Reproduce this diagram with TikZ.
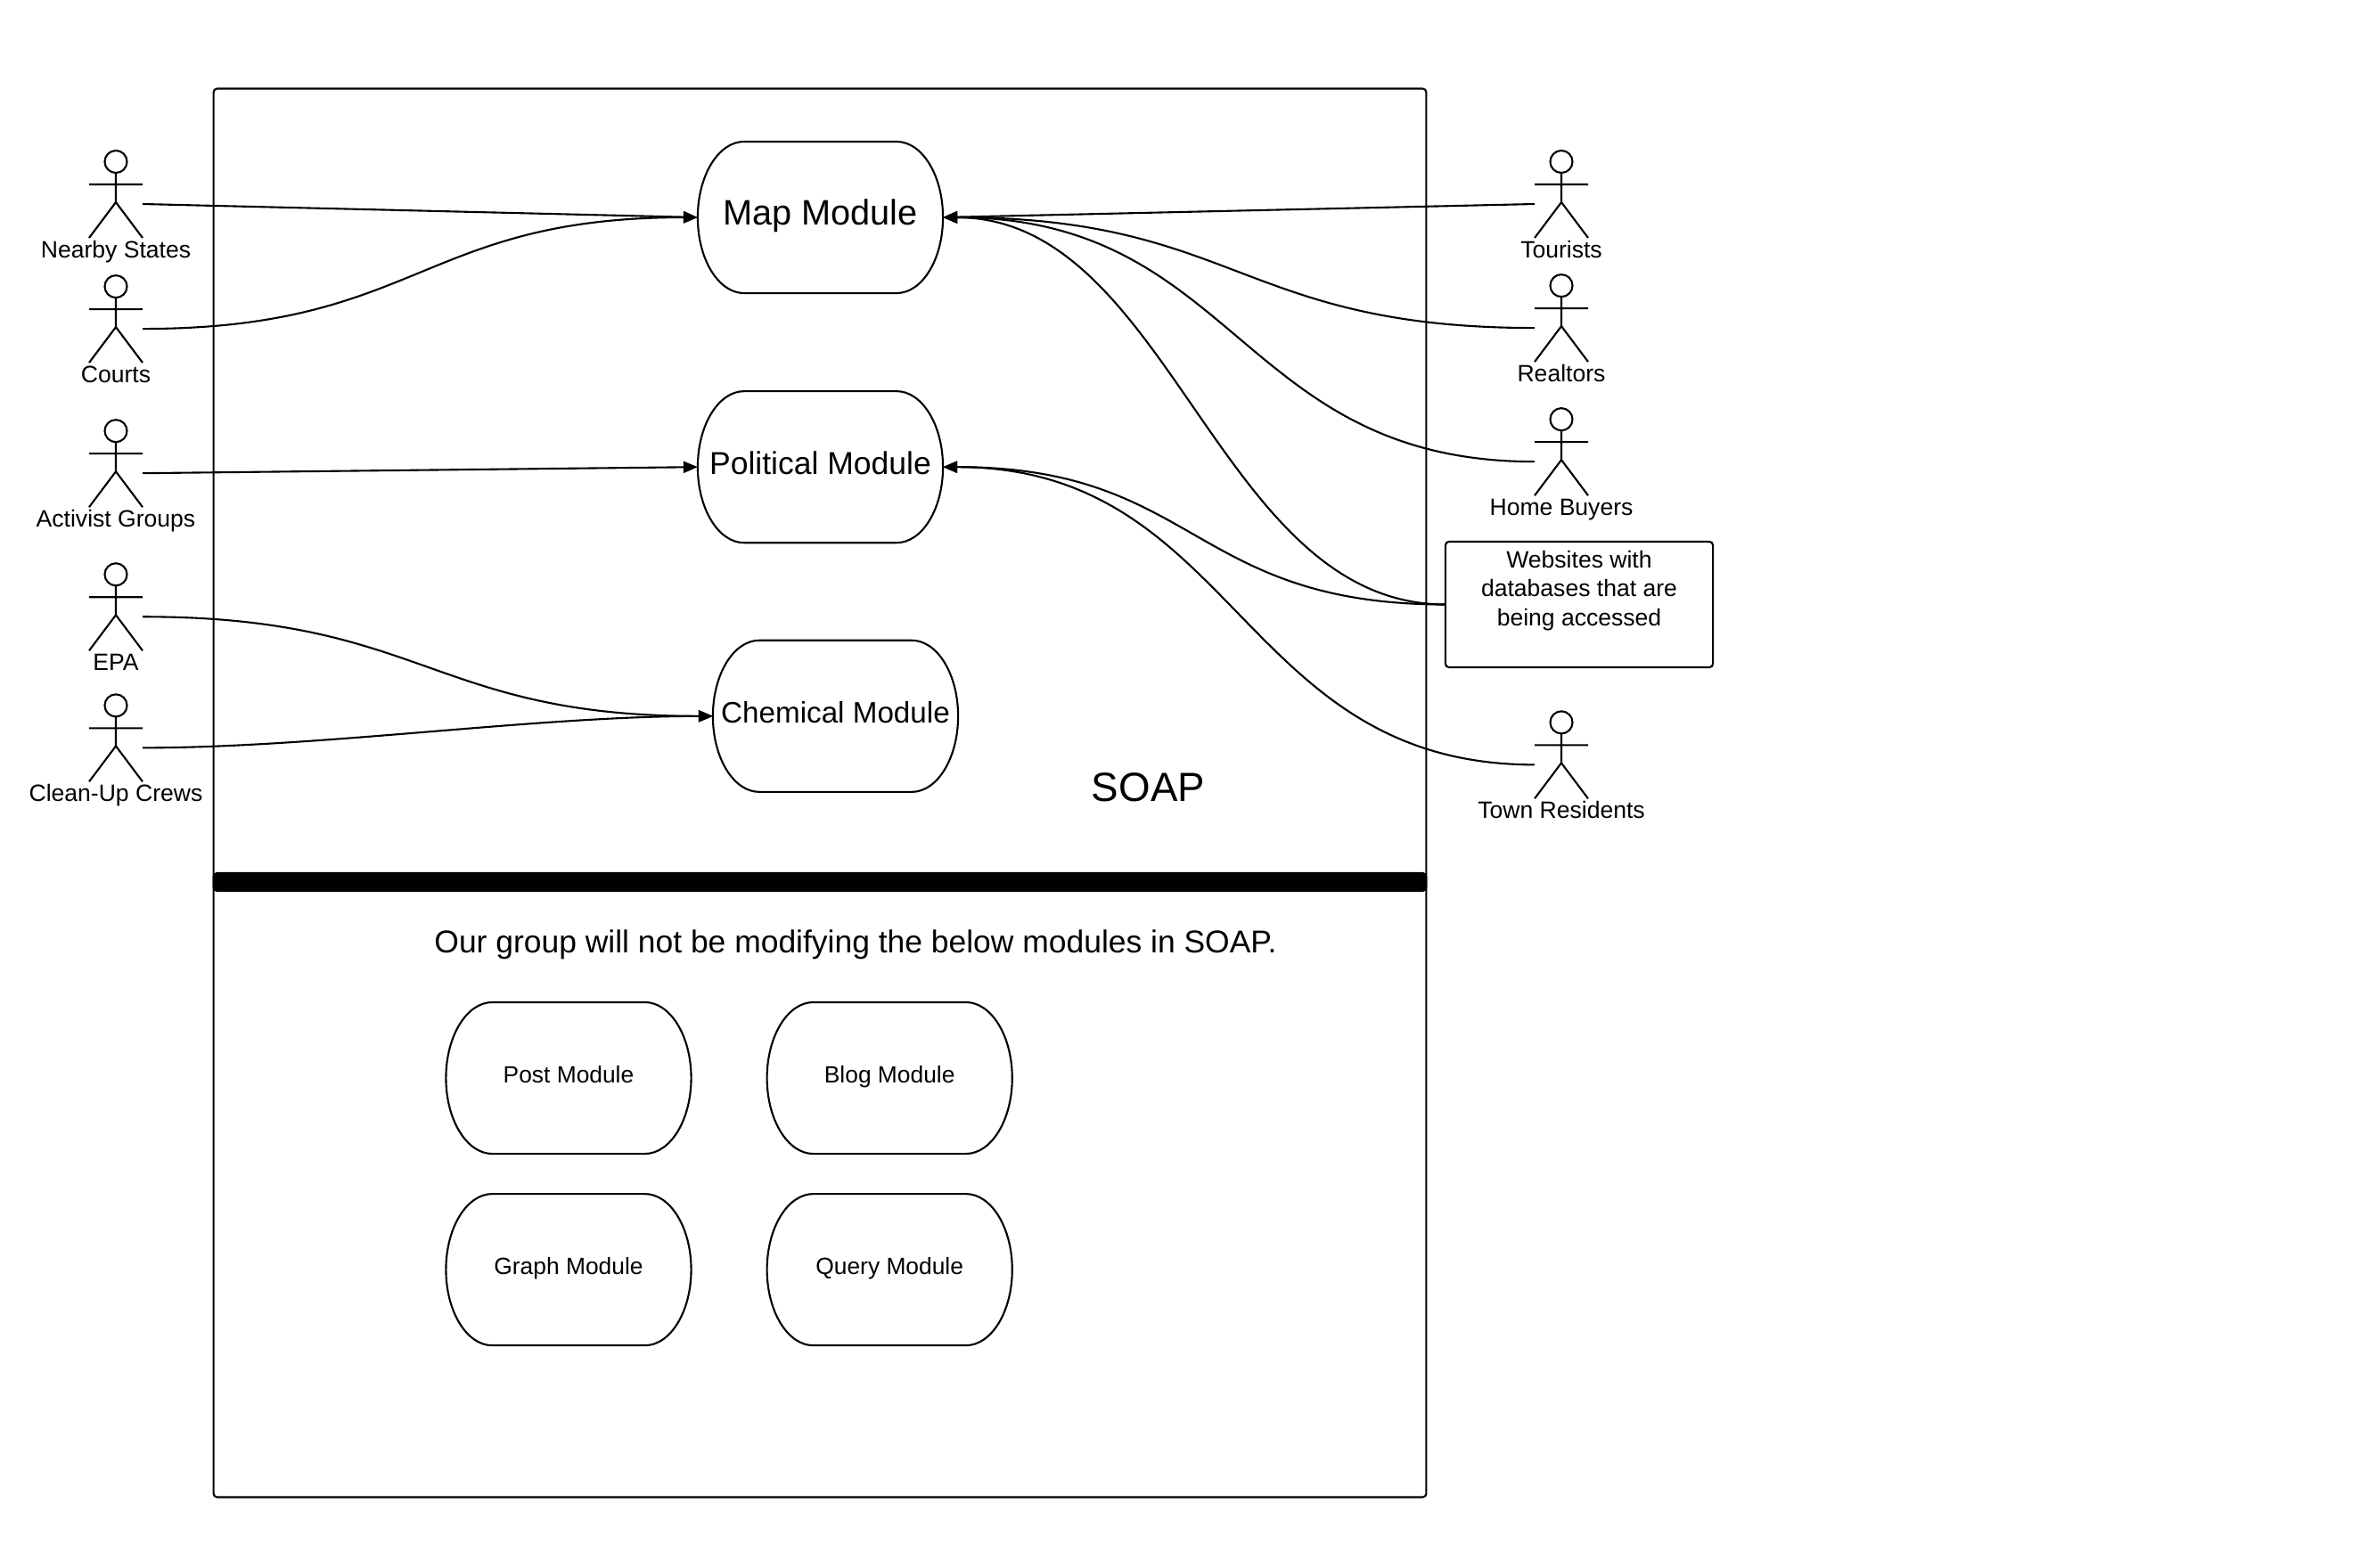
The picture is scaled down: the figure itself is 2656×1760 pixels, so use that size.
\documentclass[tikz,border=0pt]{standalone}
\usepackage{fontspec}
\setmainfont{Liberation Sans}
\usepackage{tikz}
\usetikzlibrary{positioning}
\usetikzlibrary{arrows.meta}
\newcommand{\fsize}[2]{\fontsize{#1}{#2}\selectfont}

\begin{document}
\begin{tikzpicture}[x=.01cm, y=-.01cm, line width=.6pt,
    frame/.style={draw, rounded corners=.04cm, inner sep=0pt, outer sep=0pt},
    module/.style={inner sep=0pt, outer sep=0pt, align=center, minimum width=2.75cm, minimum height=1.7cm,
        text height=.16cm, text depth=0cm,
        append after command={\pgfextra{\draw (\tikzlastnode.west)
            arc[start angle=180, end angle=90, x radius=.52cm, y radius=.85cm] -- ++(1.71cm,0)
            arc[start angle=90, end angle=0, x radius=.52cm, y radius=.85cm]
            arc[start angle=0, end angle=-90, x radius=.52cm, y radius=.85cm] -- ++(-1.71cm,0)
            arc[start angle=-90, end angle=-180, x radius=.52cm, y radius=.85cm] -- cycle;}}},
    small/.style={module, text height=.1cm, font=\fsize{7.5}{9}},
    actor/.style={inner sep=0pt, outer sep=0pt, minimum width=.6cm, minimum height=1.2cm,
        label={[inner sep=0pt, text height=.19cm, text depth=.06cm, font=\fsize{7.55}{9}, label distance=-.197cm]below:#1},
        append after command={\pgfextra{\draw[shift={(\tikzlastnode.center)}]
            (0,-47.5) circle[radius=.125cm]
            (0,-35) -- (0,-2) (-30,-22) -- (30,-22)
            (-30,38) -- (0,-2) -- (30,38);}}},
    arrow/.style={-{Triangle[length=.16cm, width=.13cm]}},
    flowr/.style={arrow, out=0, in=180, looseness=1.25},
    flowl/.style={arrow, out=180, in=0, looseness=1.25},
]
\useasboundingbox (0,0) rectangle (2656,1760);

% system boundary
\node[frame, minimum width=13.6cm, minimum height=15.8cm] (soap) at (920,890) {};
\node[frame, fill=black, minimum width=13.6cm, minimum height=.2cm] (bar) at (920,990) {};
\node[font=\fsize{13}{15}] (soaptitle) at (1288.5,884) {SOAP};
\node[font=\fsize{10.08}{12}] (note) at (960,1060) {Our group will not be modifying the below modules in SOAP.};

% modules
\node[module, font=\fsize{11.3}{13}] (map) at (920.5,244) {Map Module};
\node[module, font=\fsize{10.1}{12}, below of=map, node distance=2.8cm] (political) {Political Module};
\node[module, font=\fsize{9.45}{11}, below of=political, node distance=2.795cm, xshift=.17cm] (chemical) {Chemical Module};

\node[small] (post) at (638,1210) {Post Module};
\node[small, right of=post, node distance=3.6cm] (blog) {Blog Module};
\node[small, below of=post, node distance=2.15cm] (graph) {Graph Module};
\node[small, below of=blog, node distance=2.15cm] (query) {Query Module};

% left actors
\node[actor=Nearby States] (nearby) at (130,229) {};
\node[actor=Courts, below of=nearby, node distance=1.4cm] (courts) {};
\node[actor=Activist Groups, below of=courts, node distance=1.62cm] (activist) {};
\node[actor=EPA, below of=activist, node distance=1.61cm] (epa) {};
\node[actor=Clean-Up Crews, below of=epa, node distance=1.47cm] (crews) {};

% right actors
\node[actor=Tourists] (tourists) at (1752,229) {};
\node[actor=Realtors, below of=tourists, node distance=1.39cm] (realtors) {};
\node[actor=Home Buyers, below of=realtors, node distance=1.5cm] (buyers) {};
\node[actor=Town Residents, below of=buyers, node distance=3.4cm] (residents) {};

\node[frame, align=center, font=\fsize{7.55}{9.2}, minimum width=3cm, minimum height=1.41cm] (websites) at (1772,678.5)
    {Websites with\\databases that are\\being accessed\\[.04cm]\mbox{}};

\draw[arrow] (nearby.east) -- (map.west);
\draw[flowr] (courts.east) to (map.west);
\draw[arrow] (activist.east) -- (political.west);
\draw[flowr] (epa.east) to (chemical.west);
\draw[flowr, looseness=.8] (crews.east) to (chemical.west);

\draw[arrow] (tourists.west) -- (map.east);
\draw[flowl] (realtors.west) to (map.east);
\draw[flowl, looseness=1.18] (buyers.west) to (map.east);
\draw[flowl, looseness=.92] (websites.west) to (map.east);
\draw[flowl] (websites.west) to (political.east);
\draw[flowl, looseness=1.14] (residents.west) to (political.east);

\end{tikzpicture}
\end{document}
